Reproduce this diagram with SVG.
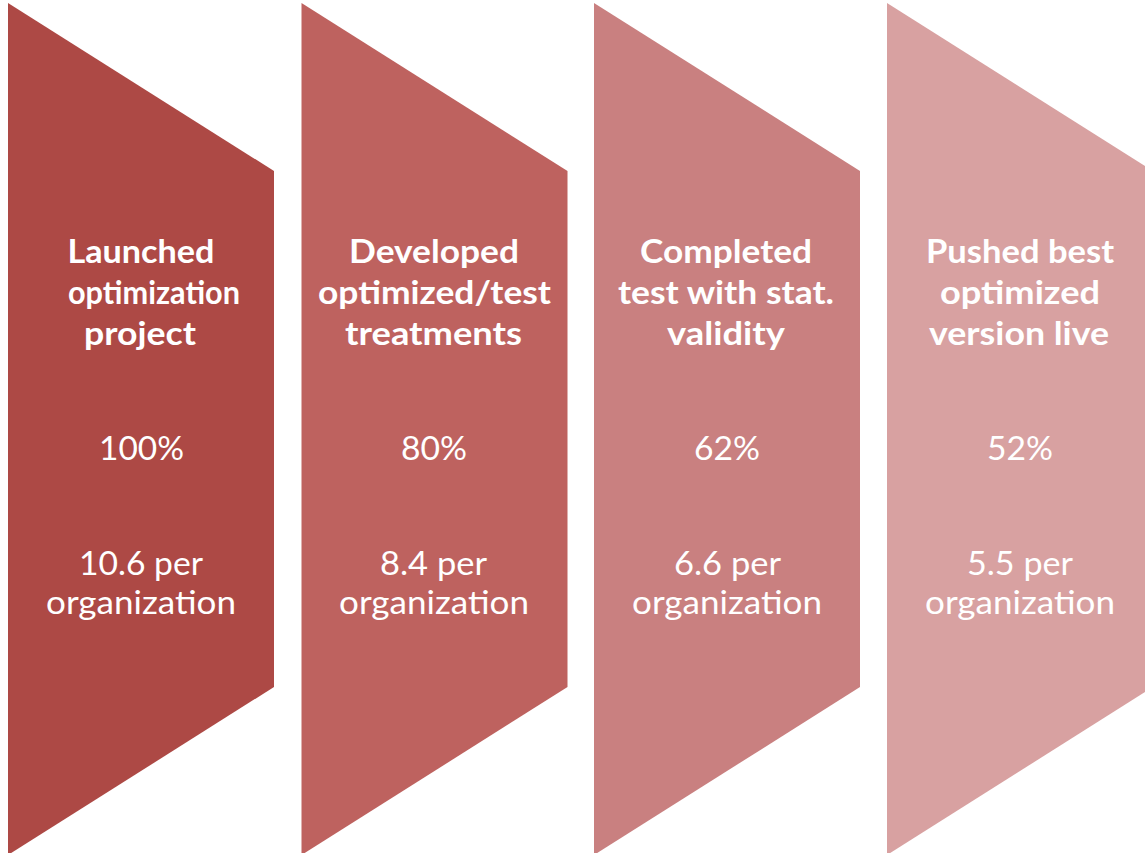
<svg xmlns="http://www.w3.org/2000/svg" width="1145" height="853" viewBox="0 0 1145 853">
<style>
.t{font-family:Lato,"Liberation Sans",sans-serif;fill:#ffffff;text-anchor:middle;font-size:33px}
.b{font-weight:bold;font-size:32px}
</style>
<rect width="1145" height="853" fill="#ffffff"/>
<g id="step1">
<polygon points="8,3 274,171 274,687 8,855" fill="#AD4945"/>
<text class="t b" x="141" y="263" textLength="147" lengthAdjust="spacingAndGlyphs">Launched</text>
<text class="t b" x="154" y="304" textLength="172" lengthAdjust="spacingAndGlyphs">optimization</text>
<text class="t b" x="140" y="345" textLength="112" lengthAdjust="spacingAndGlyphs">project</text>
<text class="t" x="141.5" y="460" textLength="85" lengthAdjust="spacingAndGlyphs">100%</text>
<text class="t" x="141" y="575" textLength="124" lengthAdjust="spacingAndGlyphs">10.6 per</text>
<text class="t" x="141" y="614" textLength="190" lengthAdjust="spacingAndGlyphs">organization</text>
</g>
<g id="step2">
<polygon points="301.5,3 567.5,171 567.5,687 301.5,855" fill="#BE625F"/>
<text class="t b" x="434" y="263" textLength="170" lengthAdjust="spacingAndGlyphs">Developed</text>
<text class="t b" x="434.5" y="304" textLength="233" lengthAdjust="spacingAndGlyphs">optimized/test</text>
<text class="t b" x="433.5" y="345" textLength="177" lengthAdjust="spacingAndGlyphs">treatments</text>
<text class="t" x="434" y="460" textLength="66" lengthAdjust="spacingAndGlyphs">80%</text>
<text class="t" x="433.5" y="575" textLength="107" lengthAdjust="spacingAndGlyphs">8.4 per</text>
<text class="t" x="434" y="614" textLength="190" lengthAdjust="spacingAndGlyphs">organization</text>
</g>
<g id="step3">
<polygon points="594,3 860,171 860,687 594,855" fill="#C98080"/>
<text class="t b" x="726" y="263" textLength="172" lengthAdjust="spacingAndGlyphs">Completed</text>
<text class="t b" x="726" y="304" textLength="216" lengthAdjust="spacingAndGlyphs">test with stat.</text>
<text class="t b" x="726" y="345" textLength="118" lengthAdjust="spacingAndGlyphs">validity</text>
<text class="t" x="727" y="460" textLength="66" lengthAdjust="spacingAndGlyphs">62%</text>
<text class="t" x="727.5" y="575" textLength="107" lengthAdjust="spacingAndGlyphs">6.6 per</text>
<text class="t" x="727" y="614" textLength="190" lengthAdjust="spacingAndGlyphs">organization</text>
</g>
<g id="step4">
<polygon points="887,3 1153,171 1153,687 887,855" fill="#D8A1A1"/>
<text class="t b" x="1020" y="263" textLength="188" lengthAdjust="spacingAndGlyphs">Pushed best</text>
<text class="t b" x="1020" y="304" textLength="160" lengthAdjust="spacingAndGlyphs">optimized</text>
<text class="t b" x="1019" y="345" textLength="180" lengthAdjust="spacingAndGlyphs">version live</text>
<text class="t" x="1020" y="460" textLength="66" lengthAdjust="spacingAndGlyphs">52%</text>
<text class="t" x="1020" y="575" textLength="106" lengthAdjust="spacingAndGlyphs">5.5 per</text>
<text class="t" x="1020" y="614" textLength="190" lengthAdjust="spacingAndGlyphs">organization</text>
</g>
<g id="connectors"/>
</svg>
